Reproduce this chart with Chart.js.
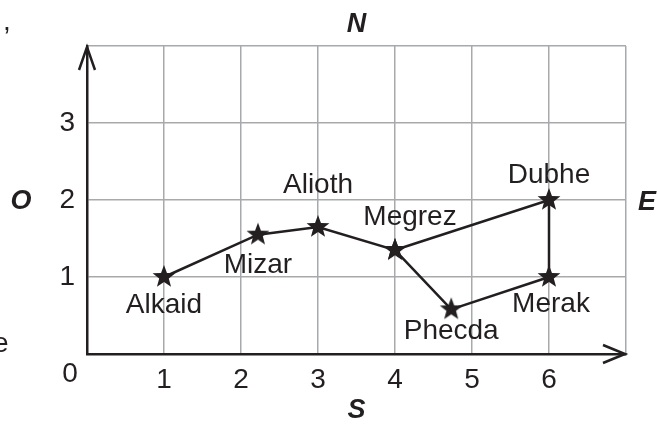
<!DOCTYPE html>
<html>
<head>
<meta charset="utf-8">
<script src="https://cdn.jsdelivr.net/npm/chart.js@4"></script>
<style>
  html, body { margin: 0; padding: 0; background: #fff; }
  #wrap { width: 657px; height: 424px; }
</style>
</head>
<body>
<div id="wrap"><canvas id="chart"></canvas></div>
<script>
// stars of the Big Dipper, grid coordinates
const starNames = ['Alkaid', 'Mizar', 'Alioth', 'Megrez', 'Phecda', 'Merak', 'Dubhe'];
const starX = [1, 2.22, 3, 4, 4.73, 6, 6];
const starY = [1, 1.55, 1.65, 1.35, 0.58, 1, 2];
// order in which the line joins the stars
const pathOrder = [0, 1, 2, 3, 4, 5, 6, 3];
const xTickLabels = ['1', '2', '3', '4', '5', '6'];
const yTickLabels = ['1', '2', '3'];
const directions = { north: 'N', south: 'S', west: 'O', east: 'E' };

const ink = '#231f20';
const fontFamily = '"Liberation Sans", Arial, sans-serif';
const textFont = '28px ' + fontFamily;
const boldFont = 'italic bold 27px ' + fontFamily;

// name label offsets from the star (dx, baseline dy)
const labelOffsets = {
    Alkaid: [0, 36],
    Mizar: [0, 38],
    Alioth: [0, -34],
    Megrez: [15, -25],
    Phecda: [0, 30],
    Merak: [2, 35],
    Dubhe: [0, -17]
};

function makeStar(r) {
    const c = document.createElement('canvas');
    const size = r * 2 + 2;
    c.width = size;
    c.height = size;
    const g = c.getContext('2d');
    g.fillStyle = ink;
    g.beginPath();
    for (let i = 0; i < 10; i++) {
        const rad = i % 2 === 0 ? r : r * 0.42;
        const a = -Math.PI / 2 + i * Math.PI / 5;
        const px = size / 2 + rad * Math.cos(a);
        const py = size / 2 + rad * Math.sin(a);
        if (i === 0) g.moveTo(px, py); else g.lineTo(px, py);
    }
    g.closePath();
    g.fill();
    return c;
}
const starImg = makeStar(12);

const decorations = {
    id: 'decorations',
    beforeDraw(chart) {
        const ctx = chart.ctx;
        ctx.save();
        ctx.fillStyle = '#fff';
        ctx.fillRect(0, 0, chart.width, chart.height);
        ctx.restore();
    },
    afterDraw(chart) {
        const ctx = chart.ctx;
        const area = chart.chartArea;
        const xs = chart.scales.x;
        const ys = chart.scales.y;
        ctx.save();

        // arrow heads on the axes
        ctx.strokeStyle = ink;
        ctx.lineWidth = 2.5;
        ctx.lineCap = 'butt';
        ctx.lineJoin = 'miter';
        ctx.beginPath();
        ctx.moveTo(area.left - 8, area.top + 24);
        ctx.lineTo(area.left, area.top + 1);
        ctx.lineTo(area.left + 8, area.top + 24);
        ctx.stroke();
        ctx.beginPath();
        ctx.moveTo(area.right - 23, area.bottom - 9);
        ctx.lineTo(area.right - 1, area.bottom);
        ctx.lineTo(area.right - 23, area.bottom + 9);
        ctx.stroke();

        // star names
        ctx.fillStyle = ink;
        ctx.font = textFont;
        ctx.textAlign = 'center';
        ctx.textBaseline = 'alphabetic';
        const pts = chart.getDatasetMeta(0).data;
        starNames.forEach((name, i) => {
            const p = pts[i];
            const off = labelOffsets[name];
            ctx.fillText(name, p.x + off[0], p.y + off[1]);
        });

        // origin label
        ctx.fillText('0', xs.getPixelForValue(0) - 17, ys.getPixelForValue(0) + 28);

        // compass letters
        ctx.font = boldFont;
        const midX = (area.left + area.right) / 2;
        ctx.fillText(directions.north, midX, 32);
        ctx.fillText(directions.south, midX, 418);
        ctx.fillText(directions.west, 21, ys.getPixelForValue(2) + 9);
        ctx.textAlign = 'left';
        ctx.fillText(directions.east, 638, ys.getPixelForValue(2) + 10);

        // fragments of neighbouring text cut off at the left edge
        ctx.font = textFont;
        ctx.fillText(',', 3, 30);
        ctx.fillText('e', -7, 352);
        ctx.restore();
    }
};

new Chart(document.getElementById('chart'), {
    type: 'scatter',
    data: {
        datasets: [{
            data: pathOrder.map(i => ({ x: starX[i], y: starY[i] })),
            showLine: true,
            borderColor: ink,
            borderWidth: 2.5,
            pointStyle: starImg,
            pointRadius: 12,
            pointHoverRadius: 12
        }]
    },
    options: {
        responsive: true,
        maintainAspectRatio: false,
        animation: false,
        events: [],
        layout: { padding: { left: 0, right: 31, top: 46, bottom: 0 } },
        plugins: {
            legend: { display: false },
            tooltip: { enabled: false }
        },
        scales: {
            x: {
                type: 'linear',
                min: 0,
                max: 7,
                afterFit: s => { s.height = 70; },
                grid: { color: '#a7a9ac', lineWidth: 1.5, drawTicks: false },
                border: { color: ink, width: 2.5 },
                ticks: {
                    stepSize: 1,
                    padding: 9,
                    color: ink,
                    font: { family: fontFamily, size: 28 },
                    callback: v => xTickLabels.includes(String(v)) ? String(v) : ''
                }
            },
            y: {
                type: 'linear',
                min: 0,
                max: 4,
                afterFit: s => { s.width = 87; },
                grid: { color: '#a7a9ac', lineWidth: 1.5, drawTicks: false },
                border: { color: ink, width: 2.5 },
                ticks: {
                    stepSize: 1,
                    padding: 12,
                    color: ink,
                    font: { family: fontFamily, size: 28 },
                    callback: v => yTickLabels.includes(String(v)) ? String(v) : ''
                }
            }
        }
    },
    plugins: [decorations]
});
</script>
</body>
</html>
